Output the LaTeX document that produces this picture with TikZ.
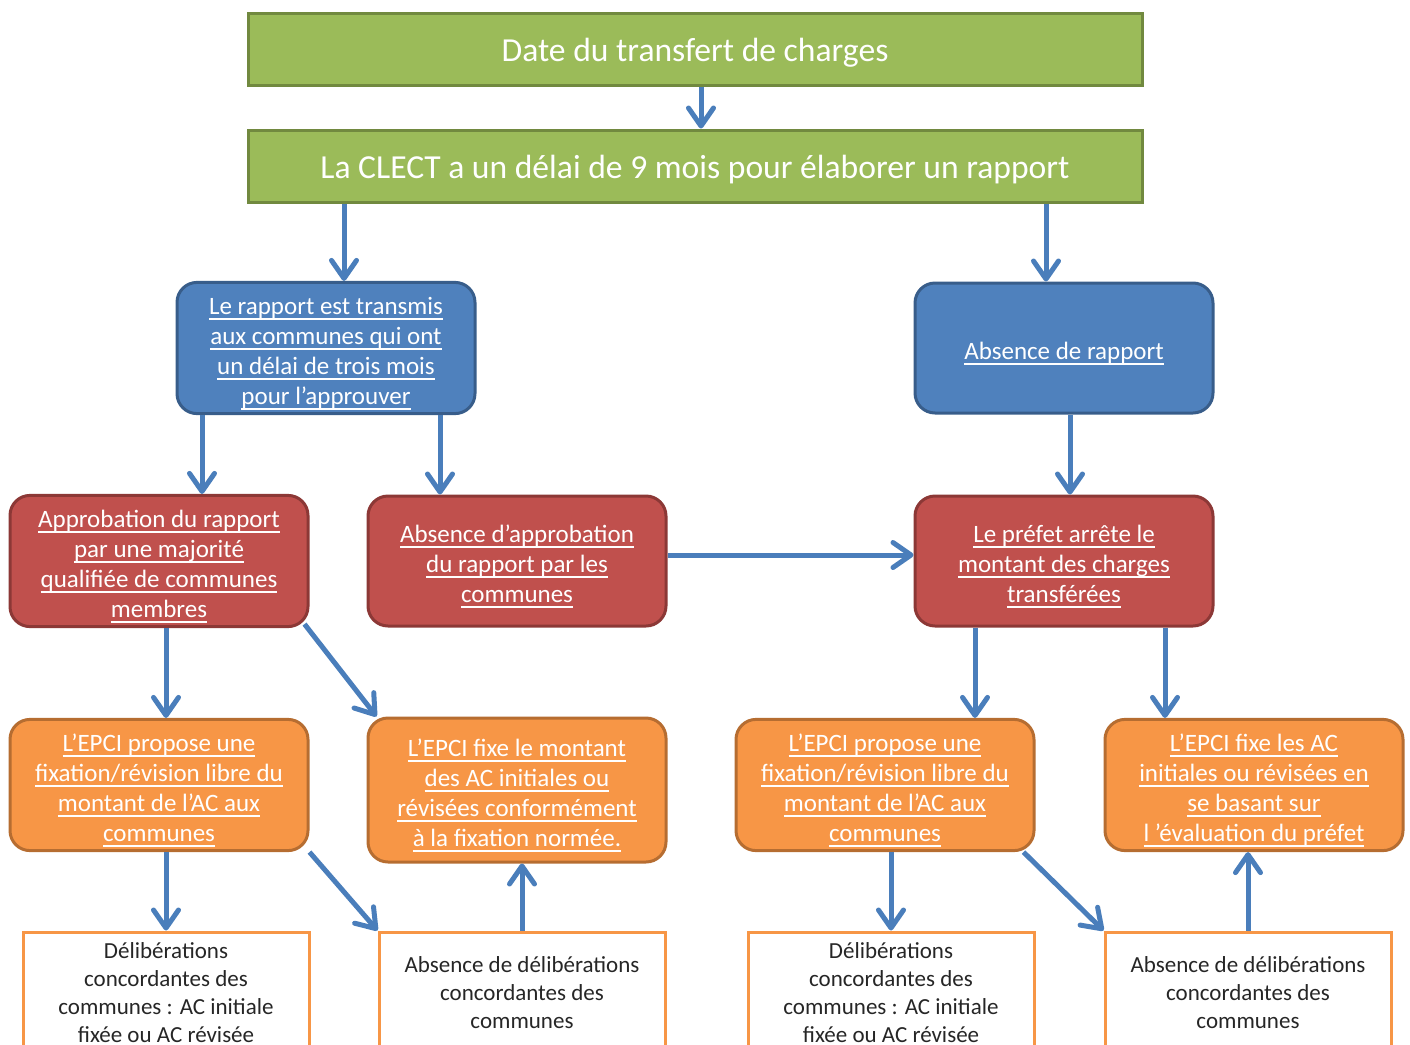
\documentclass[tikz,border=0pt]{standalone}
\usepackage{fontspec}
\setmainfont{Carlito}
\usetikzlibrary{arrows.meta}

\definecolor{vertfond}{HTML}{9BBB59}
\definecolor{vertbord}{HTML}{71893F}
\definecolor{bleufond}{HTML}{4F81BD}
\definecolor{bleubord}{HTML}{385D8A}
\definecolor{rougefond}{HTML}{C0504D}
\definecolor{rougebord}{HTML}{8C3836}
\definecolor{orangefond}{HTML}{F79646}
\definecolor{orangebord}{HTML}{B66D31}
\definecolor{fleche}{HTML}{4A7EBB}

% soulignement a profondeur fixe
\newsavebox\boitesl
\newcommand\soul[1]{\sbox\boitesl{#1}\rlap{\rule[-2.6pt]{\wd\boitesl}{0.8pt}}\usebox\boitesl}
% etai en tete de premiere ligne (descend un peu le texte)
\newcommand\debut[1][14pt]{\rule{0pt}{#1}}

\begin{document}
\begin{tikzpicture}[x=0.5pt,y=-0.5pt,
        every node/.style={align=center,inner sep=2pt},
        etape/.style={rectangle,draw,line width=1.5pt,text=white},
        titre/.style={etape,fill=vertfond,draw=vertbord,minimum width=447pt,minimum height=36pt,
            font=\fontsize{16.8}{19}\selectfont},
        bleue/.style={etape,fill=bleufond,draw=bleubord,rounded corners=10pt,minimum width=149pt,
            minimum height=65pt,font=\fontsize{12.5}{15}\selectfont},
        rouge/.style={bleue,fill=rougefond,draw=rougebord},
        orangee/.style={bleue,fill=orangefond,draw=orangebord},
        delib/.style={rectangle,draw=orangefond,line width=1.5pt,text=black!85,minimum width=143pt,
            minimum height=59pt,font=\fontsize{11.5}{14}\selectfont},
        fl/.style={draw=fleche,line width=2.5pt,-{Straight Barb[round,length=9pt,width=12.5pt]}}]

    \useasboundingbox (0,0) rectangle (1410,1045);

    % bandeaux du haut
    \node[titre] (date) at (695,49) {\debut[15.2pt]Date du transfert de charges};
    \node[titre] (clect) at (695,166) {\debut[15.2pt]La CLECT a un délai de 9 mois pour élaborer un rapport};

    % rapport ou pas
    \node[bleue] (transmis) at (326,348) {\debut\soul{Le rapport est transmis}\\ \soul{aux communes qui ont}\\
        \soul{un délai de trois mois}\\ \soul{pour l’approuver}};
    \node[bleue] (absrapport) at (1064,348) {\debut\soul{Absence de rapport}};

    % suites du rapport
    \node[rouge] (approb) at (159,561) {\debut\soul{Approbation du rapport}\\ \soul{par une majorité}\\
        \soul{qualifiée de communes}\\ \soul{membres}};
    \node[rouge] (absapprob) at (517,561) {\debut\soul{Absence d’approbation}\\ \soul{du rapport\ par les}\\
        \soul{communes}};
    \node[rouge] (prefet) at (1064,561) {\debut\soul{Le préfet arrête le}\\ \soul{montant des charges}\\
        \soul{transférées}};

    % fixation des AC
    \node[orangee] (proposeG) at (159,785) {\debut\soul{L’EPCI propose une}\\ \soul{fixation/révision libre du}\\
        \soul{montant de l’AC aux}\\ \soul{communes}};
    \node[orangee,minimum height=72pt] (normee) at (517,790) {\debut\soul{L’EPCI fixe le montant}\\
        \soul{des AC initiales ou}\\ \soul{révisées conformément}\\ \soul{à la fixation normée.}};
    \node[orangee] (proposeD) at (885,785) {\debut\soul{L’EPCI propose une}\\ \soul{fixation/révision libre du}\\
        \soul{montant de l’AC aux}\\ \soul{communes}};
    \node[orangee] (evalprefet) at (1254,785) {\debut\soul{L’EPCI fixe les AC}\\ \soul{initiales ou révisées en}\\
        \soul{se basant sur}\\ \soul{l ’évaluation du préfet}};

    % délibérations des communes
    \node[delib] (delibG) at (166,991) {\debut[9.3pt]Délibérations\\ concordantes des\\ communes : AC initiale\\ fixée ou AC révisée};
    \node[delib] (absdelibG) at (522,991) {\debut[9.3pt]Absence de délibérations\\ concordantes des\\ communes};
    \node[delib] (delibD) at (891,991) {\debut[9.3pt]Délibérations\\ concordantes des\\ communes : AC initiale\\ fixée ou AC révisée};
    \node[delib] (absdelibD) at (1248,991) {\debut[9.3pt]Absence de délibérations\\ concordantes des\\ communes};

    % fleches
    \draw[fl] (date.south -| 701,0) -- (clect.north -| 701,0);
    \draw[fl] (clect.south -| 344,0) -- (transmis.north -| 344,0);
    \draw[fl] (clect.south -| 1046,0) -- (absrapport.north -| 1046,0);
    \draw[fl] (transmis.south -| 202,0) -- (approb.north -| 202,0);
    \draw[fl] (transmis.south -| 440,0) -- (absapprob.north -| 440,0);
    \draw[fl] (absrapport.south -| 1070,0) -- (prefet.north -| 1070,0);
    \draw[fl] (absapprob.east |- 0,555) -- (prefet.west |- 0,555);
    \draw[fl] (approb.south -| 166,0) -- (proposeG.north -| 166,0);
    \draw[fl] ([xshift=-2.5pt,yshift=2pt]approb.south east) -- ([xshift=5pt]normee.north west);
    \draw[fl] (prefet.south -| 975,0) -- (proposeD.north -| 975,0);
    \draw[fl] (prefet.south -| 1165,0) -- (evalprefet.north -| 1165,0);
    \draw[fl] (proposeG.south -| 166,0) -- (delibG.north -| 166,0);
    \draw[fl] (proposeG.south east) -- (absdelibG.north west);
    \draw[fl] (absdelibG.north) -- (normee.south -| absdelibG.north);
    \draw[fl] (proposeD.south -| 891,0) -- (delibD.north);
    \draw[fl] ([xshift=-6pt]proposeD.south east) -- (absdelibD.north west);
    \draw[fl] (absdelibD.north) -- (evalprefet.south -| absdelibD.north);
\end{tikzpicture}
\end{document}
